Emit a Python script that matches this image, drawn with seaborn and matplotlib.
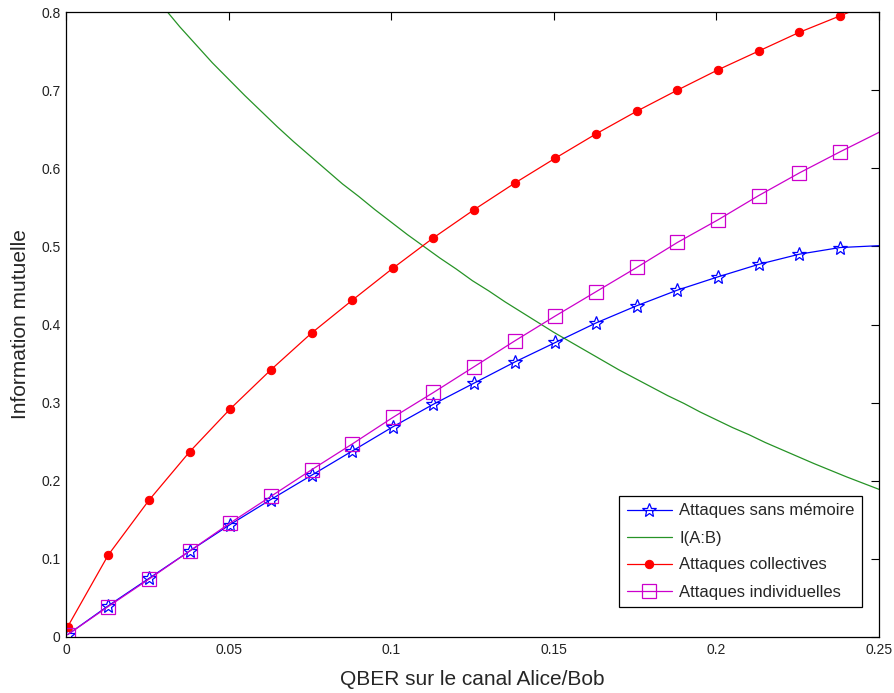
import numpy as np
import pandas as pd
import matplotlib
matplotlib.use("Agg")
import matplotlib.pyplot as plt
import seaborn as sns

# ---- data ----
qber = [0.0005, 0.013, 0.0255, 0.038, 0.0505, 0.063, 0.0755, 0.088, 0.1005, 0.113,
        0.1255, 0.138, 0.1505, 0.163, 0.1755, 0.188, 0.2005, 0.213, 0.2255, 0.238, 0.2505]

sans_memoire = [0.003, 0.040, 0.075, 0.110, 0.144, 0.176, 0.207, 0.238, 0.269, 0.298,
                0.325, 0.352, 0.377, 0.402, 0.424, 0.444, 0.461, 0.477, 0.490, 0.4985, 0.501]

collectives = [0.013, 0.105, 0.175, 0.237, 0.292, 0.342, 0.389, 0.431, 0.472, 0.511,
               0.547, 0.581, 0.613, 0.644, 0.673, 0.700, 0.726, 0.750, 0.774, 0.795, 0.816]

individuelles = [0.003, 0.039, 0.074, 0.110, 0.146, 0.180, 0.214, 0.247, 0.281, 0.313,
                 0.346, 0.379, 0.411, 0.442, 0.473, 0.505, 0.534, 0.565, 0.594, 0.621, 0.647]

qber_ab = [0.0, 0.01, 0.015, 0.02, 0.025, 0.03, 0.035, 0.04, 0.045, 0.05, 0.055, 0.06, 0.065,
           0.07, 0.075, 0.08, 0.085, 0.09, 0.095, 0.10, 0.105, 0.11, 0.115, 0.12, 0.125,
           0.13, 0.135, 0.14, 0.145, 0.15, 0.155, 0.16, 0.165, 0.17, 0.175, 0.18, 0.185,
           0.19, 0.195, 0.20, 0.205, 0.21, 0.215, 0.22, 0.225, 0.23, 0.235, 0.24, 0.245, 0.25]
info_ab = [1.0, 0.919, 0.888, 0.859, 0.831, 0.806, 0.781, 0.758, 0.735, 0.714, 0.693, 0.673, 0.653,
           0.634, 0.616, 0.598, 0.580, 0.564, 0.547, 0.531, 0.515, 0.500, 0.485, 0.471, 0.456,
           0.443, 0.429, 0.416, 0.403, 0.390, 0.378, 0.366, 0.354, 0.342, 0.331, 0.320, 0.309,
           0.299, 0.288, 0.278, 0.268, 0.259, 0.249, 0.240, 0.231, 0.222, 0.2135, 0.205, 0.197, 0.189]

x_ticks = [0, 0.05, 0.1, 0.15, 0.2, 0.25]
x_ticklabels = ["0", "0.05", "0.1", "0.15", "0.2", "0.25"]
y_ticks = [0, 0.1, 0.2, 0.3, 0.4, 0.5, 0.6, 0.7, 0.8]
y_ticklabels = ["0", "0.1", "0.2", "0.3", "0.4", "0.5", "0.6", "0.7", "0.8"]

sns.set_style("white")
plt.rcParams['font.family'] = ['Liberation Sans', 'DejaVu Sans']

fig = plt.figure(figsize=(8.94, 6.93), dpi=100)
ax = fig.add_axes([66/894, 1-637/693, (879-66)/894, (637-12)/693])

lw = 0.9
marked = list(range(len(qber) - 1))  # last point lies at the right edge, no marker there
sns.lineplot(x=qber, y=sans_memoire, ax=ax, color="#0000ff", lw=lw, marker="*",
             markersize=10, markerfacecolor="none", markeredgecolor="#0000ff",
             markeredgewidth=0.9, markevery=marked, label="Attaques sans mémoire", sort=False)
sns.lineplot(x=qber_ab, y=info_ab, ax=ax, color="#008000", lw=lw, alpha=0.85,
             label="I(A:B)", sort=False)
sns.lineplot(x=qber, y=collectives, ax=ax, color="#ff0000", lw=lw, marker="o",
             markersize=6, markerfacecolor="#ff0000", markeredgecolor="#ff0000",
             markevery=marked, label="Attaques collectives", sort=False)
sns.lineplot(x=qber, y=individuelles, ax=ax, color="#cc00cc", lw=lw, marker="s",
             markersize=10, markerfacecolor="none", markeredgecolor="#cc00cc",
             markeredgewidth=0.9, markevery=marked, label="Attaques individuelles", sort=False)

ax.set_xlim(0, 0.25)
ax.set_ylim(0, 0.8)
ax.set_xticks(x_ticks)
ax.set_xticklabels(x_ticklabels)
ax.set_yticks(y_ticks)
ax.set_yticklabels(y_ticklabels)
ax.tick_params(direction="in", top=True, right=True, length=6, width=0.8,
               labelsize=10, labelcolor="#222222", color="black", pad=4)
for s in ax.spines.values():
    s.set_color("black")
    s.set_linewidth(0.9)

ax.set_xlabel("QBER sur le canal Alice/Bob", fontsize=15, labelpad=10)
ax.set_ylabel("Information mutuelle", fontsize=15, labelpad=8)

leg = ax.legend(loc="lower right", bbox_to_anchor=(0.979, 0.048), fontsize=12,
                frameon=True, fancybox=False, edgecolor="black", framealpha=1,
                handlelength=2.7, borderpad=0.45, labelspacing=0.72, handletextpad=0.45,
                borderaxespad=0)
leg.get_frame().set_linewidth(0.9)

fig.savefig("out.png", dpi=100)
